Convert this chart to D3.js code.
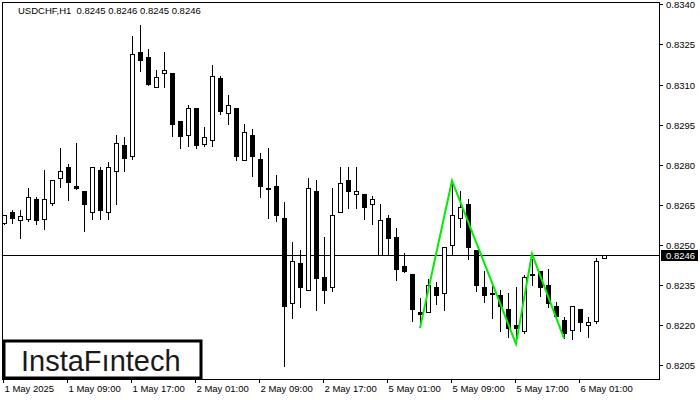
<!DOCTYPE html>
<html><head><meta charset="utf-8">
<script src="https://cdn.jsdelivr.net/npm/d3@7"></script>
<style>
html,body{margin:0;padding:0;background:#fff;}
svg{display:block;}
text{font-family:"Liberation Sans",Arial,sans-serif;}
</style></head>
<body>
<svg id="chart" width="700" height="400"></svg>
<script>
// ---- data (USDCHF H1, bars 1..76) ----
const opens = [0.82581,0.82622,0.82593,0.82598,0.82670,0.82598,0.82658,0.82749,0.82790,0.82719,
0.82700,0.82624,0.82780,0.82622,0.82778,0.82873,0.82833,0.83222,0.83202,0.83090,
0.83142,0.83143,0.82964,0.82910,0.83011,0.82879,0.82891,0.83123,0.82992,0.83011,
0.82819,0.82911,0.82820,0.82713,0.82720,0.82601,0.82281,0.82431,0.82330,0.82702,
0.82380,0.82341,0.82622,0.82742,0.82689,0.82689,0.82652,0.82461,0.82599,0.82528,
0.82420,0.82390,0.82248,0.82248,0.82342,0.82319,0.82498,0.82599,0.82653,0.82481,
0.82342,0.82319,0.82311,0.82260,0.82200,0.82179,0.82390,0.82402,0.82349,0.82272,
0.82218,0.82180,0.82259,0.82199,0.82215,0.8245];
const highs = [0.82612,0.82630,0.82630,0.82712,0.82680,0.82780,0.82742,0.82864,0.82803,0.82882,
0.82700,0.82790,0.82793,0.82810,0.82911,0.82905,0.83282,0.83323,0.83232,0.83154,
0.83222,0.83143,0.82964,0.83022,0.83011,0.82940,0.83173,0.83132,0.83061,0.83011,
0.82952,0.82934,0.82845,0.82861,0.82761,0.82660,0.82510,0.82481,0.82749,0.82743,
0.82531,0.82712,0.82790,0.82790,0.82790,0.82689,0.82683,0.82652,0.82612,0.82562,
0.82468,0.82390,0.82300,0.82371,0.82360,0.82491,0.82735,0.82700,0.82670,0.82481,
0.82401,0.82346,0.82331,0.82319,0.82341,0.82387,0.82448,0.82402,0.82410,0.82287,
0.82231,0.82270,0.82259,0.82230,0.82450,0.8246];
const lows = [0.82578,0.82581,0.82527,0.82588,0.82578,0.82560,0.82650,0.82718,0.82668,0.82710,
0.82551,0.82598,0.82598,0.82598,0.82653,0.82778,0.82820,0.83152,0.83099,0.83090,
0.83090,0.82909,0.82861,0.82871,0.82861,0.82871,0.82871,0.82991,0.82951,0.82818,
0.82819,0.82758,0.82680,0.82599,0.82590,0.82048,0.82227,0.82268,0.82330,0.82257,
0.82281,0.82328,0.82622,0.82639,0.82639,0.82598,0.82579,0.82461,0.82461,0.82370,
0.82400,0.82216,0.82194,0.82248,0.82280,0.82257,0.82466,0.82568,0.82448,0.82328,
0.82287,0.82227,0.82179,0.82156,0.82144,0.82169,0.82350,0.82309,0.82268,0.82229,
0.82152,0.82149,0.82179,0.82156,0.82209,0.8245];
const closes = [0.82612,0.82597,0.82609,0.82680,0.82590,0.82670,0.82742,0.82778,0.82730,0.82710,
0.82650,0.82790,0.82628,0.82790,0.82880,0.82820,0.83213,0.83189,0.83099,0.83129,
0.83153,0.82950,0.82903,0.83011,0.82871,0.82904,0.83131,0.82998,0.83023,0.82830,
0.82921,0.82830,0.82718,0.82712,0.82609,0.82268,0.82438,0.82340,0.82712,0.82371,
0.82328,0.82611,0.82730,0.82699,0.82700,0.82639,0.82670,0.82592,0.82521,0.82407,
0.82400,0.82257,0.82239,0.82349,0.82310,0.82491,0.82611,0.82641,0.82489,0.82347,
0.82310,0.82318,0.82268,0.82186,0.82186,0.82379,0.82391,0.82340,0.82280,0.82229,
0.82167,0.82270,0.82209,0.82210,0.82438,0.8246];

// pattern outline
const patternIdx = [53, 57, 65, 67, 71];
const patternVal = [0.82188, 0.82740, 0.82129, 0.82466, 0.82150];

const yTicks = [0.8205,0.8220,0.8235,0.8250,0.8265,0.8280,0.8295,0.8310,0.8325,0.8340];
const xTickIdx = [1,9,17,25,33,41,49,57,65,73];
const xTickLabels = ["1 May 2025","1 May 09:00","1 May 17:00","2 May 01:00","2 May 09:00",
"2 May 17:00","5 May 01:00","5 May 09:00","5 May 17:00","6 May 01:00"];
const currentPrice = 0.8246;
const headerText = "USDCHF,H1  0.8245 0.8246 0.8245 0.8246";
const logoText = "InstaF\u0131ntech";

// ---- drawing ----
const svg = d3.select("#chart");
const L = 2, T = 2, R = 659, B = 379;
const x = d3.scaleLinear().domain([1, 76]).range([4, 604]);
const y = d3.scaleLinear().domain([0.8205, 0.8340]).range([365, 4.4]);

svg.append("defs").append("clipPath").attr("id","clip")
  .append("rect").attr("x",L).attr("y",T).attr("width",R-L).attr("height",B-T);

const plot = svg.append("g").attr("clip-path","url(#clip)");

plot.append("line").attr("x1",L).attr("x2",R)
  .attr("y1",Math.round(y(currentPrice))+0.5).attr("y2",Math.round(y(currentPrice))+0.5)
  .attr("stroke","#000").attr("stroke-width",1);

const bars = opens.map((o,i)=>({i:i+1,o,h:highs[i],l:lows[i],c:closes[i]}));
const g = plot.append("g");
bars.forEach(d=>{
  const cx = Math.round(x(d.i));
  const up = d.c >= d.o;
  g.append("line").attr("x1",cx+0.5).attr("x2",cx+0.5)
    .attr("y1",Math.round(y(d.h))).attr("y2",Math.round(y(d.l))+1)
    .attr("stroke","#000").attr("stroke-width",1);
  const top = Math.round(y(Math.max(d.o,d.c)));
  const bot = Math.round(y(Math.min(d.o,d.c)));
  if (up) {
    g.append("rect").attr("x",cx-2+0.5).attr("y",top+0.5)
      .attr("width",4).attr("height",Math.max(bot-top,1))
      .attr("fill","#fff").attr("stroke","#000").attr("stroke-width",1);
  } else {
    g.append("rect").attr("x",cx-2).attr("y",top)
      .attr("width",5).attr("height",Math.max(bot-top,2))
      .attr("fill","#000");
  }
});

const line = d3.line().x((d,k)=>x(patternIdx[k])).y((d,k)=>y(patternVal[k]));
plot.append("path").datum(patternVal).attr("d",line)
  .attr("fill","none").attr("stroke","#00ee00").attr("stroke-width",2)
  .attr("stroke-linejoin","miter");

svg.append("rect").attr("x",L+0.5).attr("y",T+0.5).attr("width",R-L).attr("height",B-T)
  .attr("fill","none").attr("stroke","#000").attr("stroke-width",1);

const ya = svg.append("g");
yTicks.forEach(t=>{
  const yy = Math.round(y(t))+0.5;
  ya.append("line").attr("x1",R).attr("x2",R+4).attr("y1",yy).attr("y2",yy).attr("stroke","#000");
  ya.append("text").attr("x",R+7).attr("y",yy).attr("dy","0.35em")
    .attr("font-size",9.5).attr("fill","#000").text(d3.format(".4f")(t));
});
const cy = Math.round(y(currentPrice));
svg.append("rect").attr("x",R+2).attr("y",cy-5).attr("width",37).attr("height",11).attr("fill","#000");
svg.append("text").attr("x",R+7).attr("y",cy+0.5).attr("dy","0.35em")
  .attr("font-size",9.5).attr("fill","#fff").text(d3.format(".4f")(currentPrice));

const xa = svg.append("g");
xTickIdx.forEach((idx,k)=>{
  const xx = Math.round(x(idx))-0.5;
  xa.append("line").attr("x1",xx).attr("x2",xx).attr("y1",B).attr("y2",B+4).attr("stroke","#000");
  xa.append("text").attr("x",xx+1).attr("y",B+13).attr("font-size",9.5).attr("fill","#000")
    .text(xTickLabels[k]);
});

svg.append("text").attr("x",18).attr("y",14).attr("font-size",9.5).attr("fill","#000")
  .style("white-space","pre").text(headerText);

svg.append("rect").attr("x",4).attr("y",341).attr("width",197).attr("height",37)
  .attr("fill","#fff").attr("stroke","#000").attr("stroke-width",3);
svg.append("text").attr("x",21).attr("y",371).attr("font-family","Roboto, 'Open Sans', sans-serif")
  .attr("font-size",29).attr("fill","#1a1a1a").text(logoText);
</script>
</body></html>
